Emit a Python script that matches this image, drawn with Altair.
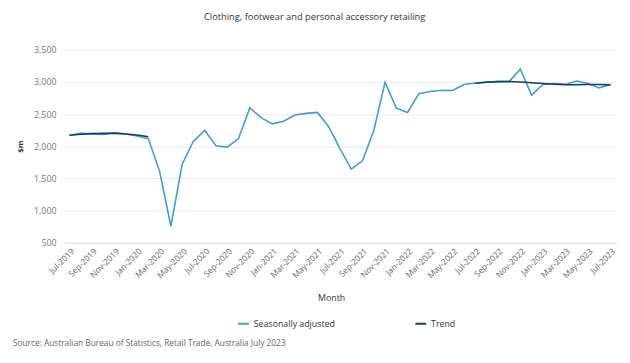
import altair as alt
import pandas as pd

months = ["Jul-2019","Aug-2019","Sep-2019","Oct-2019","Nov-2019","Dec-2019",
          "Jan-2020","Feb-2020","Mar-2020","Apr-2020","May-2020","Jun-2020",
          "Jul-2020","Aug-2020","Sep-2020","Oct-2020","Nov-2020","Dec-2020",
          "Jan-2021","Feb-2021","Mar-2021","Apr-2021","May-2021","Jun-2021",
          "Jul-2021","Aug-2021","Sep-2021","Oct-2021","Nov-2021","Dec-2021",
          "Jan-2022","Feb-2022","Mar-2022","Apr-2022","May-2022","Jun-2022",
          "Jul-2022","Aug-2022","Sep-2022","Oct-2022","Nov-2022","Dec-2022",
          "Jan-2023","Feb-2023","Mar-2023","Apr-2023","May-2023","Jun-2023",
          "Jul-2023"]

seasonally_adjusted = [2170, 2200, 2195, 2185, 2215, 2190,
                       2160, 2115, 1610, 756, 1722, 2078,
                       2246, 2008, 1987, 2119, 2597, 2444,
                       2348, 2389, 2485, 2511, 2526, 2305,
                       1965, 1646, 1773, 2246, 2994, 2592,
                       2526, 2817, 2852, 2872, 2867, 2959,
                       2985, 3000, 3005, 3005, 3198, 2796,
                       2960, 2975, 2960, 3015, 2975, 2908,
                       2960]

trend_months_1 = months[0:8]
trend_values_1 = [2170, 2188, 2196, 2200, 2200, 2192, 2176, 2148]
trend_months_2 = months[36:49]
trend_values_2 = [2980, 2995, 3005, 3008, 3000, 2988, 2975, 2965, 2958, 2957, 2960, 2960, 2955]

rows = []
for m, v in zip(months, seasonally_adjusted):
    rows.append({"Month": m, "Value": v, "Series": "Seasonally adjusted", "Seg": "sa"})
for m, v in zip(trend_months_1, trend_values_1):
    rows.append({"Month": m, "Value": v, "Series": "Trend", "Seg": "t1"})
for m, v in zip(trend_months_2, trend_values_2):
    rows.append({"Month": m, "Value": v, "Series": "Trend", "Seg": "t2"})
df = pd.DataFrame(rows)

W, H = 564, 197
FONT = "Open Sans"

lines = alt.Chart(df).mark_line(strokeWidth=1.6).encode(
    x=alt.X("Month:N", sort=months, title="Month",
            scale=alt.Scale(padding=0.5),
            axis=alt.Axis(values=months[::2], labelAngle=-45, labelAlign="right",
                          labelBaseline="top", labelFontSize=8.5, labelColor="#666666",
                          titleFontSize=9, titleFontWeight="normal", titleColor="#333333",
                          titlePadding=15, titleX=273, domainColor="#d5e0ec", ticks=False,
                          grid=False, labelPadding=4)),
    y=alt.Y("Value:Q", title="$m",
            scale=alt.Scale(domain=[500, 3500], nice=False),
            axis=alt.Axis(values=[500, 1000, 1500, 2000, 2500, 3000, 3500],
                          format=",d", labelFontSize=9, labelColor="#777777",
                          titleFontSize=8, titleFontWeight="bold", titleColor="#333333",
                          titlePadding=9, domain=False, ticks=False,
                          gridColor="#e9e9e9", labelPadding=8)),
    color=alt.Color("Series:N",
                    scale=alt.Scale(domain=["Seasonally adjusted", "Trend"],
                                    range=["#3d9dd6", "#123f66"]),
                    legend=alt.Legend(orient="none", direction="horizontal",
                                      legendX=177, legendY=273,
                                      title=None, symbolType="stroke",
                                      symbolSize=120, symbolStrokeWidth=2,
                                      labelFontSize=9, labelColor="#333333",
                                      columnPadding=78)),
    detail="Seg:N",
)

source = alt.Chart(pd.DataFrame({"t": ["Source: Australian Bureau of Statistics, Retail Trade, Australia July 2023"]})).mark_text(
    align="left", baseline="middle", fontSize=8.5, color="#666666", font=FONT
).encode(x=alt.value(-52), y=alt.value(H + 102), text="t:N")

chart = alt.layer(lines, source).properties(
    width=W, height=H,
    padding={"top": 0, "left": 5, "right": 5, "bottom": 5},
    title=alt.TitleParams("Clothing, footwear and personal accessory retailing",
                          fontSize=9.5, fontWeight="normal", color="#333333",
                          anchor="middle", frame="bounds", offset=23, dy=-2, font=FONT),
).configure(font=FONT).configure_view(stroke=None)

chart.save("out.html", embed_options={"renderer": "svg", "actions": False})
